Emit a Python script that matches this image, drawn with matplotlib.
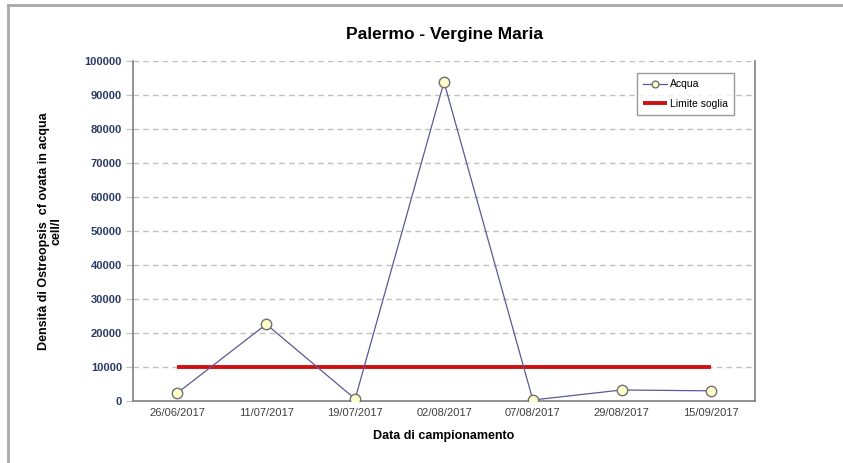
import matplotlib
matplotlib.use("Agg")
import matplotlib.pyplot as plt
from matplotlib.lines import Line2D

# Sampling dates and measured cell density in water
dates = ["26/06/2017", "11/07/2017", "19/07/2017", "02/08/2017",
         "07/08/2017", "29/08/2017", "15/09/2017"]
acqua = [2300, 22500, 500, 93800, 200, 3150, 2900]
soglia = [10000] * len(dates)
y_ticks = list(range(0, 100001, 10000))

plt.rcParams['font.family'] = ['Liberation Sans', 'DejaVu Sans']

fig = plt.figure(figsize=(8.43, 4.63), dpi=100)
ax = fig.add_axes([0.1578, 0.1346, 0.7378, 0.7337])

x = list(range(len(dates)))

ax.set_ylim(0, 100000)
ax.set_xlim(-0.5, len(dates) - 0.5)
ax.set_yticks(y_ticks)
ax.set_yticklabels([str(v) for v in y_ticks], fontsize=8, fontweight='bold',
                   color='#2b3a67')
ax.set_xticks(x)
ax.set_xticklabels(dates, fontsize=8, color='#404040')

ax.yaxis.grid(True, linestyle=(0, (4, 3)), color='#c0c0c0', linewidth=1)
ax.set_axisbelow(True)
ax.tick_params(axis='y', length=5, color='#c0c0c0', pad=3)
ax.tick_params(axis='x', length=0, pad=5)

for side in ['left', 'bottom', 'right']:
    ax.spines[side].set_color('#808080')
    ax.spines[side].set_linewidth(1.2)
ax.spines['top'].set_visible(False)

ax.plot(x, soglia, color='#d01010', linewidth=2.8, label='Limite soglia', zorder=2,
        solid_capstyle='butt')
ax.plot(x, acqua, color='#5a5a96', linewidth=0.9, marker='o', markersize=7.5,
        markerfacecolor='#ffffcc', markeredgecolor='#707070', markeredgewidth=1.0,
        label='Acqua', zorder=3)

handles, labels = ax.get_legend_handles_labels()
leg = ax.legend(handles[::-1], labels[::-1], loc='upper right',
                bbox_to_anchor=(0.975, 0.98), fontsize=7.5, frameon=True,
                fancybox=False, edgecolor='#808080', handlelength=2.3,
                handletextpad=0.3, borderpad=0.6, labelspacing=0.9,
                markerscale=0.65)
leg.get_frame().set_linewidth(1.0)

ax.set_title("Palermo - Vergine Maria", fontsize=12.5, fontweight='bold', pad=16)
ax.set_xlabel("Data di campionamento", fontsize=9, fontweight='bold', labelpad=9)
ax.set_ylabel("Densità di Ostreopsis  cf ovata in acqua\ncell/l", fontsize=9,
              fontweight='bold', labelpad=16, linespacing=1.0)

# figure border (top and left edges)
fig.add_artist(Line2D([7.5 / 843, 7.5 / 843], [0, 1 - 5 / 463], transform=fig.transFigure,
                      color='#a8a8a8', linewidth=2))
fig.add_artist(Line2D([7.5 / 843, 1], [1 - 5 / 463, 1 - 5 / 463], transform=fig.transFigure,
                      color='#a8a8a8', linewidth=2))

fig.savefig("out.png", dpi=100)
